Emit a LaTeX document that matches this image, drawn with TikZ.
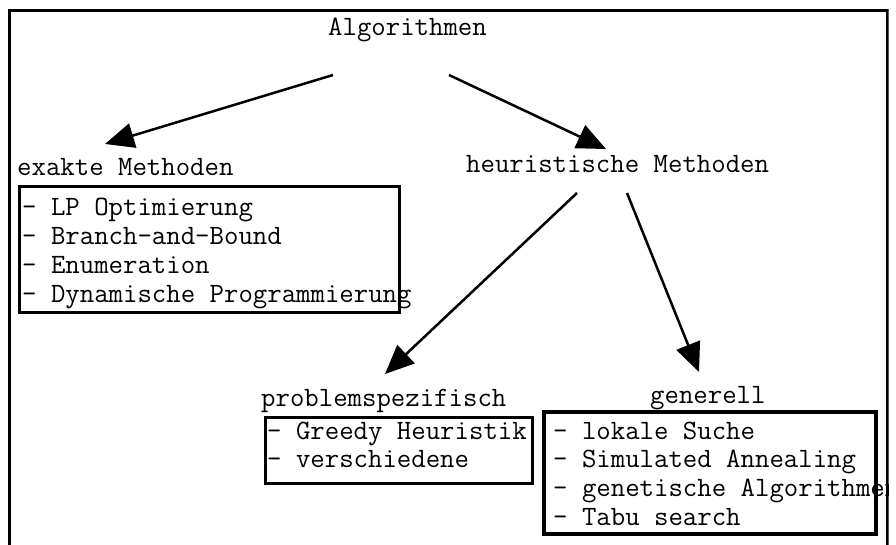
\documentclass[tikz,border=0pt]{standalone}
\usepackage{fontspec}
\usetikzlibrary{arrows.meta,positioning}
\tikzset{
  txt/.style={font=\ttfamily\fontsize{28}{28}\selectfont, inner sep=0pt},
  zeile/.style={txt, text height=17pt, text depth=11.3pt, anchor=north west},
  kasten/.style={draw, line width=3pt, anchor=north west, inner sep=0pt, outer sep=0pt},
  pfeil/.style={-{Triangle[length=29pt,width=25pt]}, line width=2.5pt},
  rahmen/.style={line width=3pt},
}
\begin{document}
\begin{tikzpicture}[x=1pt,y=1pt]
  \useasboundingbox (0,0) rectangle (896,544);
  \clip (0,0) rectangle (888.5,544);
  \draw[rahmen] (9,-10) rectangle (887,533);
  % Ueberschriften
  \node[txt, anchor=base west] (alg) at (328,508) {Algorithmen};
  \node[txt, anchor=base west] (exakt) at (17,368) {exakte Methoden};
  \node[txt, anchor=base west] (heur) at (466,371) {heuristische Methoden};
  \node[txt, anchor=base west] (prob) at (261,138) {problemspezifisch};
  \node[txt, anchor=base west] (gen) at (650,141) {generell};
  % Kaesten
  \node[kasten, minimum width=380pt, minimum height=125pt] (b1) at (19,357) {};
  \node[kasten, minimum width=267pt, minimum height=66pt] (b2) at (265,127) {};
  \node[kasten, line width=4pt, minimum width=332pt, minimum height=122pt] (b3) at (544,132) {};
  % exakte Methoden
  \node[zeile, anchor=base west] (b1z1) at ([shift={(3,-29)}]b1.north west) {- LP Optimierung};
  \node[zeile] (b1z2) at (b1z1.south west) {- Branch-and-Bound};
  \node[zeile] (b1z3) at (b1z2.south west) {- Enumeration};
  \node[zeile] (b1z4) at (b1z3.south west) {- Dynamische Programmierung};
  % problemspezifisch
  \node[zeile, anchor=base west] (b2z1) at ([shift={(2,-22)}]b2.north west) {- Greedy Heuristik};
  \node[zeile] (b2z2) at (b2z1.south west) {- verschiedene};
  % generell
  \node[zeile, anchor=base west] (b3z1) at ([shift={(9,-27)}]b3.north west) {- lokale Suche};
  \node[zeile] (b3z2) at (b3z1.south west) {- Simulated Annealing};
  \node[zeile] (b3z3) at (b3z2.south west) {- genetische Algorithmen};
  \node[zeile] (b3z4) at (b3z3.south west) {- Tabu search};
  % Pfeile
  \draw[pfeil] ([shift={(5,-39)}]alg.base west) -- ([shift={(88,32)}]exakt.base west);
  \draw[pfeil] ([shift={(121,-39)}]alg.base west) -- ([shift={(140,24)}]heur.base west);
  \draw[pfeil] ([shift={(111,-20)}]heur.base west) -- ([shift={(124,32)}]prob.base west);
  \draw[pfeil] ([shift={(161,-20)}]heur.base west) -- ([shift={(49,31)}]gen.base west);
\end{tikzpicture}
\end{document}
